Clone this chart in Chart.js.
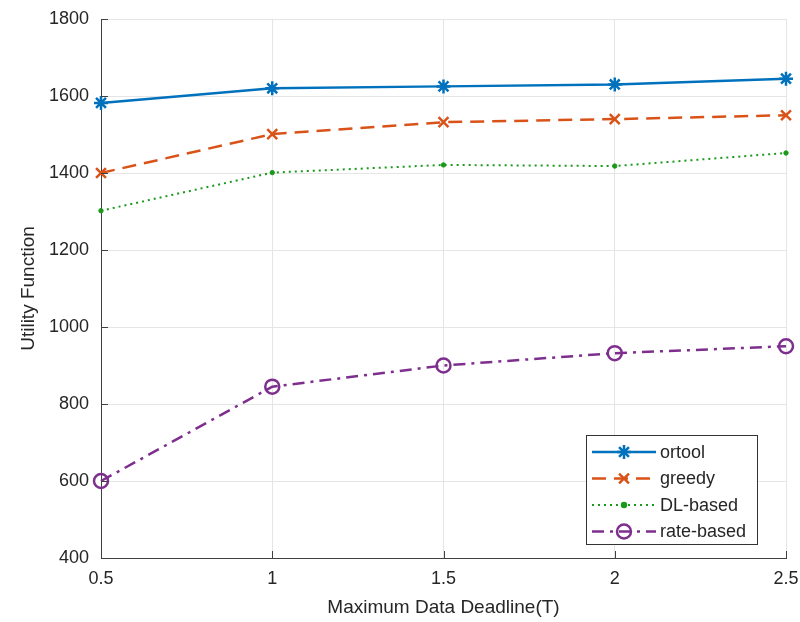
<!DOCTYPE html>
<html>
<head>
<meta charset="utf-8">
<script src="https://cdn.jsdelivr.net/npm/chart.js@4"></script>
<style>
  html, body { margin: 0; padding: 0; background: #fff; }
  #wrap { width: 800px; height: 622px; }
</style>
</head>
<body>
<div id="wrap"><canvas id="chart"></canvas></div>
<script>
// data
var deadlines = [0.5, 1, 1.5, 2, 2.5];
var ortool = [1582, 1620, 1625, 1630, 1645];
var greedy = [1400, 1501, 1532, 1540, 1550];
var dlBased = [1302, 1401, 1421, 1418, 1452];
var rateBased = [600, 845, 900, 932, 950];
var yTicks = [400, 600, 800, 1000, 1200, 1400, 1600, 1800];

var FONT = '"Liberation Sans", Arial, sans-serif';
var TXT = '#262626';

function pts(arr) {
    return deadlines.map(function (d, i) { return {x: d, y: arr[i]}; });
}

// legend box drawn inside the plot, bottom-right, like matlab
var boxLegend = {
    id: 'boxLegend',
    afterDraw: function (chart) {
        var ctx = chart.ctx, ca = chart.chartArea;
        var w = 171, h = 109;
        var x0 = ca.right - 29 - w, y0 = ca.bottom - 14 - h;
        ctx.save();
        ctx.fillStyle = '#fff';
        ctx.fillRect(x0, y0, w, h);
        ctx.strokeStyle = '#333';
        ctx.lineWidth = 1;
        ctx.strokeRect(x0 + 0.5, y0 + 0.5, w, h);
        chart.data.datasets.forEach(function (ds, i) {
            var cy = y0 + 17 + i * 26.5;
            ctx.strokeStyle = ds.borderColor;
            ctx.lineWidth = ds.borderWidth;
            ctx.setLineDash(ds.borderDash || []);
            ctx.beginPath();
            ctx.moveTo(x0 + 6, cy);
            ctx.lineTo(x0 + 70, cy);
            ctx.stroke();
            ctx.setLineDash([]);
            ctx.fillStyle = ds.pointBackgroundColor;
            ctx.strokeStyle = ds.borderColor;
            Chart.helpers.drawPoint(ctx, {
                pointStyle: ds.pointStyle,
                radius: ds.pointRadius,
                borderWidth: ds.pointBorderWidth || ds.borderWidth,
                rotation: 0
            }, x0 + 38, cy);
            ctx.fillStyle = TXT;
            ctx.font = '18px ' + FONT;
            ctx.textBaseline = 'middle';
            ctx.textAlign = 'left';
            ctx.fillText(ds.label, x0 + 74, cy + 1);
        });
        ctx.restore();
    }
};

// small inward tick marks on left and bottom axes
var innerTicks = {
    id: 'innerTicks',
    afterDatasetsDraw: function (chart) {
        var ctx = chart.ctx, ca = chart.chartArea;
        var xs = chart.scales.x, ys = chart.scales.y;
        ctx.save();
        ctx.strokeStyle = '#404040';
        ctx.lineWidth = 1;
        ctx.beginPath();
        yTicks.forEach(function (v) {
            var y = Math.round(ys.getPixelForValue(v)) + 0.5;
            ctx.moveTo(ca.left, y); ctx.lineTo(ca.left + 7, y);
        });
        deadlines.forEach(function (v) {
            var x = Math.round(xs.getPixelForValue(v)) + 0.5;
            ctx.moveTo(x, ca.bottom); ctx.lineTo(x, ca.bottom - 7);
        });
        ctx.stroke();
        ctx.restore();
    }
};

new Chart(document.getElementById('chart'), {
    type: 'line',
    data: {
        datasets: [{
            label: 'ortool',
            data: pts(ortool),
            borderColor: '#0072BD',
            backgroundColor: '#0072BD',
            pointBackgroundColor: '#0072BD',
            borderWidth: 2.5,
            pointStyle: 'star',
            pointRadius: 7,
            pointBorderWidth: 2.5
        }, {
            label: 'greedy',
            data: pts(greedy),
            borderColor: '#D95319',
            backgroundColor: '#D95319',
            pointBackgroundColor: '#D95319',
            borderWidth: 2.5,
            borderDash: [14, 8],
            pointStyle: 'crossRot',
            pointRadius: 7,
            pointBorderWidth: 2.5
        }, {
            label: 'DL-based',
            data: pts(dlBased),
            borderColor: '#1a991a',
            backgroundColor: '#1a991a',
            pointBackgroundColor: '#1a991a',
            borderWidth: 2,
            borderDash: [2, 4],
            pointStyle: 'circle',
            pointRadius: 2.2,
            pointBorderWidth: 1
        }, {
            label: 'rate-based',
            data: pts(rateBased),
            borderColor: '#7E2F8E',
            backgroundColor: 'rgba(0,0,0,0)',
            pointBackgroundColor: 'rgba(0,0,0,0)',
            borderWidth: 2.5,
            borderDash: [12, 6, 3, 6],
            pointStyle: 'circle',
            pointRadius: 7,
            pointBorderWidth: 2.5
        }]
    },
    options: {
        responsive: true,
        maintainAspectRatio: false,
        animation: false,
        clip: false,
        layout: { padding: { top: 19, right: 14, left: 0, bottom: 0 } },
        plugins: {
            legend: { display: false },
            tooltip: { enabled: false }
        },
        elements: { line: { tension: 0 } },
        scales: {
            x: {
                type: 'linear',
                min: 0.5,
                max: 2.5,
                afterBuildTicks: function (s) {
                    s.ticks = deadlines.map(function (v) { return {value: v}; });
                },
                afterFit: function (s) {
                    s.height = 64;
                    s.paddingLeft = 0;
                    s.paddingRight = 0;
                },
                grid: { color: '#e5e5e5', drawTicks: false },
                border: { color: '#404040', width: 1 },
                ticks: {
                    padding: 10,
                    color: TXT,
                    font: { family: FONT, size: 18 },
                    maxRotation: 0,
                    callback: function (v) { return String(v); }
                },
                title: {
                    display: true,
                    text: 'Maximum Data Deadline(T)',
                    color: TXT,
                    font: { family: FONT, size: 19 },
                    padding: { top: 0, bottom: 3 }
                }
            },
            y: {
                min: 400,
                max: 1800,
                afterBuildTicks: function (s) {
                    s.ticks = yTicks.map(function (v) { return {value: v}; });
                },
                afterFit: function (s) {
                    s.width = 101;
                    s.paddingTop = 0;
                    s.paddingBottom = 0;
                },
                grid: { color: '#e5e5e5', drawTicks: false },
                border: { color: '#404040', width: 1 },
                ticks: {
                    padding: 12,
                    color: TXT,
                    font: { family: FONT, size: 18 },
                    callback: function (v) { return String(v); }
                },
                title: {
                    display: true,
                    text: 'Utility Function',
                    color: TXT,
                    font: { family: FONT, size: 19 },
                    padding: { top: 17, bottom: 0 }
                }
            }
        }
    },
    plugins: [innerTicks, boxLegend]
});
</script>
</body>
</html>
